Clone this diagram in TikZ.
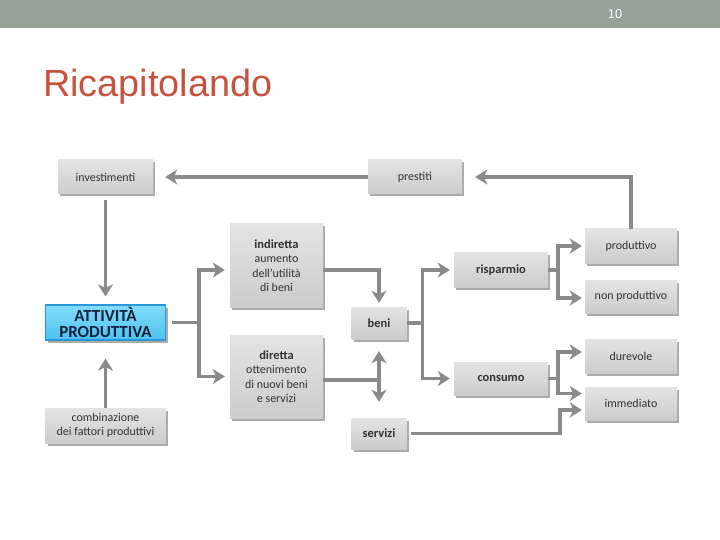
\documentclass[tikz,border=0pt]{standalone}
\usepackage{fontspec}
\setmainfont{Carlito}
\newfontfamily\titlefont{Liberation Sans}
\usetikzlibrary{arrows.meta, positioning, shadows, calc}

\definecolor{barGray}{RGB}{147,161,151}
\definecolor{titleRed}{RGB}{196,84,64}
\definecolor{boxTop}{RGB}{228,228,228}
\definecolor{boxBottom}{RGB}{204,204,204}
\definecolor{flowGray}{RGB}{138,138,138}
\definecolor{keyTop}{RGB}{130,220,250}
\definecolor{keyBottom}{RGB}{78,194,240}
\definecolor{keyBorder}{RGB}{40,150,215}
\definecolor{keyText}{RGB}{20,35,60}

\begin{document}
\begin{tikzpicture}[
  x=1bp, y=-1bp,
  box/.style={
    top color=boxTop, bottom color=boxBottom, draw=none,
    inner sep=1bp, align=center, text=black!80,
    font=\fontsize{12}{14.5}\selectfont,
    drop shadow={shadow xshift=2bp, shadow yshift=-2.5bp, fill=black!60, opacity=0.55}
  },
  smallbox/.style={box, minimum width=94bp, minimum height=34bp},
  tallbox/.style={box, minimum width=93bp, minimum height=83bp},
  tinybox/.style={box, minimum width=55bp, minimum height=32bp},
  widebox/.style={box, minimum width=120bp, minimum height=35bp},
  boldtext/.style={font=\fontsize{12.5}{14}\selectfont\bfseries},
  keybox/.style={
    widebox, top color=keyTop, bottom color=keyBottom,
    draw=keyBorder, line width=1.2bp, text=keyText,
    font=\fontsize{17}{16}\selectfont\bfseries
  },
  flow/.style={draw=flowGray, line width=3.5bp},
  flowarrow/.style={flow, -{Stealth[length=12bp, width=15bp, inset=3.5bp]}, shorten >=4bp}
]
\useasboundingbox (0,0) rectangle (720,540);

% header and title
\fill[barGray] (0,0) rectangle (720,28);
\node[text=white, font=\titlefont\fontsize{13}{14}\selectfont] (pagina) at (615,14) {10};
\node[anchor=base west, inner sep=0, text=titleRed, font=\titlefont\fontsize{38}{40}\selectfont]
  (titolo) at (43,97) {Ricapitolando};

% left column
\node[smallbox, minimum width=95bp] (investimenti) at (105.5,177) {investimenti};
\node[keybox] (attivita) at (105.5,322.5) {ATTIVITÀ\\PRODUTTIVA};
\node[widebox] (combinazione) at (105.5,425.5) {combinazione\\dei fattori produttivi};

% middle column
\node[smallbox] (prestiti) at (415,177) {prestiti};
\node[tallbox] (indiretta) at (276.5,265.5)
  {{\fontsize{12.5}{14.5}\selectfont\bfseries indiretta}\\aumento\\dell’utilità\\di beni};
\node[tallbox] (diretta) at (276.5,376.5)
  {{\fontsize{12.5}{14.5}\selectfont\bfseries diretta}\\ottenimento\\di nuovi beni\\e servizi};
\node[tinybox, boldtext] (beni) at (379,323) {beni};
\node[tinybox, boldtext, minimum height=31bp] (servizi) at (379,433.5) {servizi};

% right column
\node[smallbox, boldtext] (risparmio) at (501,270) {risparmio};
\node[smallbox, boldtext, minimum height=33bp] (consumo) at (501,378.5) {consumo};
\node[smallbox, minimum width=92bp] (produttivo) at (631,246) {produttivo};
\node[smallbox, minimum width=92bp, minimum height=33bp] (nonprod) at (631,296.5) {non produttivo};
\node[smallbox, minimum width=92bp] (durevole) at (631,356) {durevole};
\node[smallbox, minimum width=92bp, minimum height=33bp] (immediato) at (631,403.5) {immediato};

% fork points
\coordinate (forkA) at ($(attivita.east)+(33,0)$);
\coordinate (forkB) at ([yshift=-3.5bp]diretta.east -| beni.south);
\coordinate (forkC) at ($(beni.east)+(16,0)$);
\coordinate (forkD) at ($(risparmio.east)+(10,0)$);
\coordinate (forkE) at ($(consumo.east)+(10,0)$);
\coordinate (forkF) at ($(servizi.east -| forkE)+(2,0)$);

% connectors
\draw[flowarrow, shorten >=12bp] (prestiti.west) -- (investimenti.east);
\draw[flowarrow, shorten <=6bp, shorten >=8bp] (investimenti.south) -- (attivita.north);
\draw[flowarrow, shorten >=18bp] (combinazione.north) -- (attivita.south);

\draw[flow, shorten <=6bp] (attivita.east) -- (forkA);
\draw[flowarrow, shorten >=5bp] (forkA) |- ([yshift=-4.5bp]indiretta.west);
\draw[flowarrow, shorten >=5bp] (forkA) |- (diretta.west);

\draw[flowarrow] ([yshift=-4.5bp]indiretta.east) -| (beni.north);
\draw[flow] ([yshift=-3.5bp]diretta.east) -- (forkB);
\draw[flowarrow, shorten >=12bp] (forkB) -- (beni.south);
\draw[flowarrow, shorten >=16bp] (forkB) -- (servizi.north);

\draw[flow] (beni.east) -- (forkC);
\draw[flowarrow] (forkC) |- (risparmio.west);
\draw[flowarrow] (forkC) |- (consumo.west);

\draw[flow] (risparmio.east) -- (forkD);
\draw[flowarrow, shorten >=3bp] (forkD) |- (produttivo.west);
\draw[flowarrow, shorten >=3bp] (forkD) |- ([yshift=-1.5bp]nonprod.west);

\draw[flow] (consumo.east) -- (forkE);
\draw[flowarrow, shorten >=3bp] (forkE) |- ([yshift=4bp]durevole.west);
\draw[flowarrow, shorten >=3bp] (forkE) |- ([yshift=10bp]immediato.west);

\draw[flowarrow, shorten <=4bp, shorten >=3bp] (servizi.east) -- (forkF) |- ([yshift=-6.5bp]immediato.west);
\draw[flowarrow, shorten >=13bp] (produttivo.north) |- (prestiti.east);
\end{tikzpicture}
\end{document}
